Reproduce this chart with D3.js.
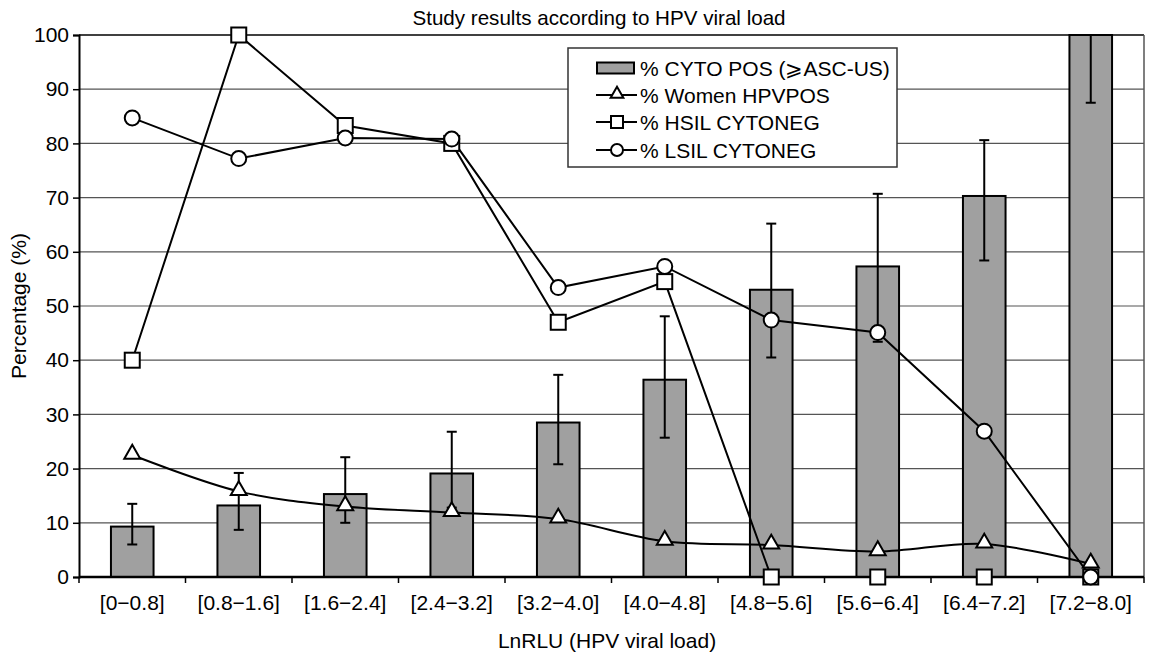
<!DOCTYPE html>
<html>
<head>
<meta charset="utf-8">
<script src="https://cdn.jsdelivr.net/npm/d3@7"></script>
<style>
  body { margin: 0; background: #fff; }
  text { font-family: "Liberation Sans", Arial, sans-serif; fill: #000; }
</style>
</head>
<body>
<svg></svg>
<script>
const width = 1149;
const height = 655;

const categories = ["[0\u22120.8]", "[0.8\u22121.6]", "[1.6\u22122.4]", "[2.4\u22123.2]", "[3.2\u22124.0]",
    "[4.0\u22124.8]", "[4.8\u22125.6]", "[5.6\u22126.4]", "[6.4\u22127.2]", "[7.2\u22128.0]"];
const cytoPos = [9.3, 13.2, 15.3, 19.1, 28.5, 36.4, 53.0, 57.3, 70.3, 100];
const cytoLow = [6.0, 8.7, 10.0, 12.8, 20.8, 25.7, 40.5, 43.4, 58.4, 87.5];
const cytoHigh = [13.5, 19.2, 22.1, 26.8, 37.3, 48.1, 65.2, 70.7, 80.6, 100];
const womenHpvPos = [22.5, 15.8, 13.0, 11.9, 10.7, 6.6, 5.9, 4.7, 6.1, 2.4];
const hsilCytoNeg = [40, 100, 83.3, 80, 47.0, 54.5, 0, 0, 0, 0];
const lsilCytoNeg = [84.7, 77.2, 81.0, 80.8, 53.4, 57.3, 47.4, 45.1, 26.9, 0];
const yTicks = [0, 10, 20, 30, 40, 50, 60, 70, 80, 90, 100];

const margin = { top: 35, right: 5, bottom: 78, left: 79 };
const innerW = width - margin.left - margin.right;
const innerH = height - margin.top - margin.bottom;

const svg = d3.select("svg")
    .attr("width", width)
    .attr("height", height);

const g = svg.append("g")
    .attr("transform", `translate(${margin.left},${margin.top})`);

const x = d3.scaleBand()
    .domain(categories)
    .range([0, innerW])
    .paddingInner(0.6)
    .paddingOuter(0.3);

const y = d3.scaleLinear()
    .domain([0, 100])
    .range([innerH, 0]);

const cx = d => x(d) + x.bandwidth() / 2;

// gridlines
g.append("g")
    .selectAll("line")
    .data(yTicks.slice(1))
    .enter().append("line")
    .attr("x1", 0)
    .attr("x2", innerW)
    .attr("y1", d => y(d))
    .attr("y2", d => y(d))
    .attr("stroke", d => d === 100 ? "#000" : "#555")
    .attr("stroke-width", d => d === 100 ? 1.5 : 1.2);

// right border
g.append("line")
    .attr("x1", innerW).attr("x2", innerW)
    .attr("y1", 0).attr("y2", innerH)
    .attr("stroke", "#555")
    .attr("stroke-width", 1.5);

// bars
g.append("g")
    .selectAll("rect")
    .data(categories)
    .enter().append("rect")
    .attr("x", d => x(d))
    .attr("y", (d, i) => y(cytoPos[i]))
    .attr("width", x.bandwidth())
    .attr("height", (d, i) => innerH - y(cytoPos[i]))
    .attr("fill", "#a0a0a0")
    .attr("stroke", "#000")
    .attr("stroke-width", 2);

// error bars
const err = g.append("g")
    .attr("stroke", "#000")
    .attr("stroke-width", 2);

categories.forEach((c, i) => {
    const px = cx(c);
    err.append("line")
        .attr("x1", px).attr("x2", px)
        .attr("y1", y(cytoLow[i])).attr("y2", y(cytoHigh[i]));
    [cytoLow[i], cytoHigh[i]].forEach(v => {
        err.append("line")
            .attr("x1", px - 5).attr("x2", px + 5)
            .attr("y1", y(v)).attr("y2", y(v));
    });
});

// axes
const yAxis = g.append("g")
    .call(d3.axisLeft(y).tickValues(yTicks).tickSize(6).tickPadding(4));
yAxis.select(".domain").attr("stroke-width", 2);
yAxis.selectAll(".tick line").attr("stroke-width", 1.5);
yAxis.selectAll("text").style("font-size", "21px");

const xAxis = g.append("g")
    .attr("transform", `translate(0,${innerH})`);
xAxis.append("line")
    .attr("x1", 0).attr("x2", innerW)
    .attr("stroke", "#000").attr("stroke-width", 2.5);
xAxis.selectAll(".sep")
    .data(d3.range(categories.length + 1))
    .enter().append("line")
    .attr("x1", i => innerW * i / categories.length)
    .attr("x2", i => innerW * i / categories.length)
    .attr("y1", 0).attr("y2", 6)
    .attr("stroke", "#000").attr("stroke-width", 1.5);
xAxis.selectAll(".lab")
    .data(categories)
    .enter().append("text")
    .attr("x", d => cx(d))
    .attr("y", 33)
    .attr("text-anchor", "middle")
    .style("font-size", "21px")
    .text(d => d);

// lines
const lineStraight = d3.line()
    .x((d, i) => cx(categories[i]))
    .y(d => y(d));
const lineSmooth = d3.line()
    .x((d, i) => cx(categories[i]))
    .y(d => y(d))
    .curve(d3.curveCatmullRom.alpha(0.5));

const lines = g.append("g")
    .attr("fill", "none")
    .attr("stroke", "#000")
    .attr("stroke-width", 2);
lines.append("path").attr("d", lineStraight(hsilCytoNeg));
lines.append("path").attr("d", lineStraight(lsilCytoNeg));
lines.append("path").attr("d", lineSmooth(womenHpvPos));

// markers
const tri = d3.symbol().type(d3.symbolTriangle).size(110);

g.append("g")
    .selectAll("rect")
    .data(hsilCytoNeg)
    .enter().append("rect")
    .attr("x", (d, i) => cx(categories[i]) - 7.5)
    .attr("y", d => y(d) - 7.5)
    .attr("width", 15)
    .attr("height", 15)
    .attr("fill", "#fff")
    .attr("stroke", "#000")
    .attr("stroke-width", 2);

g.append("g")
    .selectAll("path")
    .data(womenHpvPos)
    .enter().append("path")
    .attr("d", tri)
    .attr("transform", (d, i) => `translate(${cx(categories[i])},${y(d) - 1})`)
    .attr("fill", "#fff")
    .attr("stroke", "#000")
    .attr("stroke-width", 2);

g.append("g")
    .selectAll("circle")
    .data(lsilCytoNeg)
    .enter().append("circle")
    .attr("cx", (d, i) => cx(categories[i]))
    .attr("cy", d => y(d))
    .attr("r", 7.5)
    .attr("fill", "#fff")
    .attr("stroke", "#000")
    .attr("stroke-width", 2);

// legend
const legend = svg.append("g")
    .attr("transform", "translate(568,48)");
legend.append("rect")
    .attr("width", 329)
    .attr("height", 119)
    .attr("fill", "#fff")
    .attr("stroke", "#333")
    .attr("stroke-width", 1.5);

const legendLabels = ["% CYTO POS (\u2A7EASC-US)", "% Women HPVPOS", "% HSIL CYTONEG", "% LSIL CYTONEG"];
const rowY = [20, 47, 74, 102];

legend.append("rect")
    .attr("x", 29).attr("y", rowY[0] - 5.5)
    .attr("width", 37).attr("height", 11)
    .attr("fill", "#a0a0a0").attr("stroke", "#000").attr("stroke-width", 2);
[1, 2, 3].forEach(k => {
    legend.append("line")
        .attr("x1", 28).attr("x2", 69)
        .attr("y1", rowY[k]).attr("y2", rowY[k])
        .attr("stroke", "#000").attr("stroke-width", 2);
});
legend.append("path")
    .attr("d", d3.symbol().type(d3.symbolTriangle).size(70))
    .attr("transform", `translate(49,${rowY[1] - 1})`)
    .attr("fill", "#fff").attr("stroke", "#000").attr("stroke-width", 2);
legend.append("rect")
    .attr("x", 43).attr("y", rowY[2] - 6)
    .attr("width", 12).attr("height", 12)
    .attr("fill", "#fff").attr("stroke", "#000").attr("stroke-width", 2);
legend.append("circle")
    .attr("cx", 49).attr("cy", rowY[3]).attr("r", 6)
    .attr("fill", "#fff").attr("stroke", "#000").attr("stroke-width", 2);

legend.selectAll(".ltext")
    .data(legendLabels)
    .enter().append("text")
    .attr("x", 72)
    .attr("y", (d, i) => rowY[i])
    .attr("dy", "0.36em")
    .style("font-size", "21px")
    .text(d => d);

// titles
svg.append("text")
    .attr("x", 599)
    .attr("y", 25)
    .attr("text-anchor", "middle")
    .style("font-size", "20.6px")
    .text("Study results according to HPV viral load");

svg.append("text")
    .attr("x", 607)
    .attr("y", 648)
    .attr("text-anchor", "middle")
    .style("font-size", "21px")
    .text("LnRLU (HPV viral load)");

svg.append("text")
    .attr("transform", `translate(26,${margin.top + innerH / 2}) rotate(-90)`)
    .attr("text-anchor", "middle")
    .style("font-size", "21px")
    .text("Percentage (%)");
</script>
</body>
</html>
